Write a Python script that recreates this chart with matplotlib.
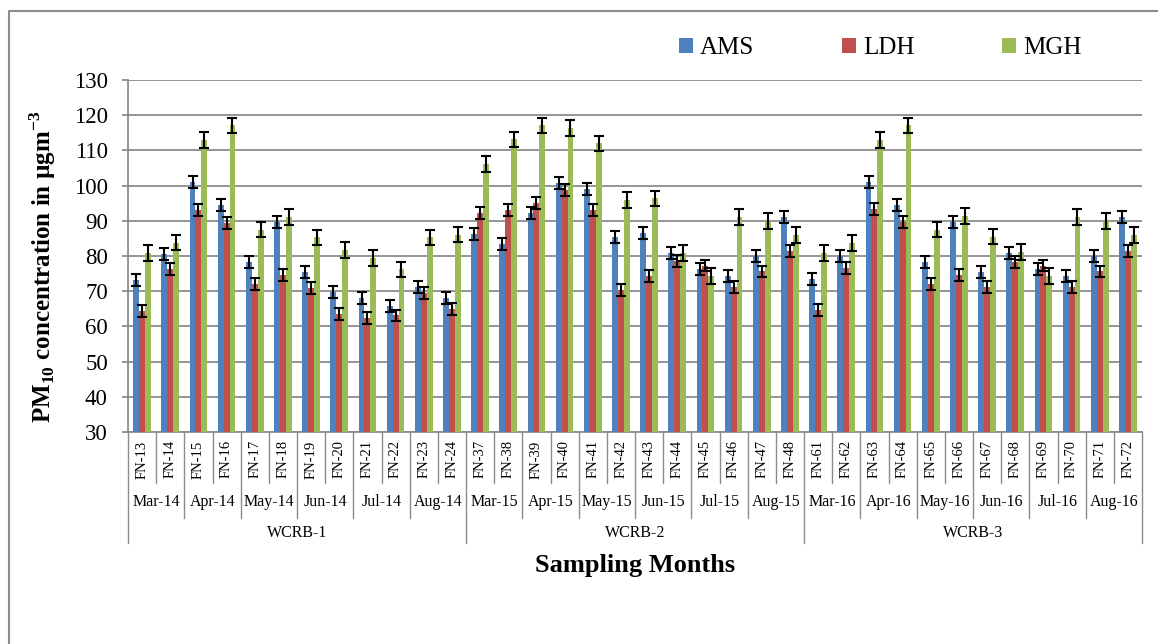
import matplotlib
matplotlib.use('Agg')
import matplotlib.pyplot as plt
import matplotlib.transforms as mtransforms
from matplotlib.lines import Line2D
import numpy as np

plt.rcParams['font.family'] = ['Liberation Serif', 'DejaVu Serif']
plt.rcParams['mathtext.fontset'] = 'custom'
plt.rcParams['mathtext.rm'] = 'Liberation Serif'
plt.rcParams['mathtext.bf'] = 'Liberation Serif:bold'

# sample ids, months and basins
samples = ['FN-13', 'FN-14', 'FN-15', 'FN-16', 'FN-17', 'FN-18', 'FN-19', 'FN-20', 'FN-21', 'FN-22', 'FN-23', 'FN-24',
           'FN-37', 'FN-38', 'FN-39', 'FN-40', 'FN-41', 'FN-42', 'FN-43', 'FN-44', 'FN-45', 'FN-46', 'FN-47', 'FN-48',
           'FN-61', 'FN-62', 'FN-63', 'FN-64', 'FN-65', 'FN-66', 'FN-67', 'FN-68', 'FN-69', 'FN-70', 'FN-71', 'FN-72']
months = ['Mar-14', 'Apr-14', 'May-14', 'Jun-14', 'Jul-14', 'Aug-14',
          'Mar-15', 'Apr-15', 'May-15', 'Jun-15', 'Jul-15', 'Aug-15',
          'Mar-16', 'Apr-16', 'May-16', 'Jun-16', 'Jul-16', 'Aug-16']
basins = ['WCRB-1', 'WCRB-2', 'WCRB-3']

# PM10 values
ams = [73.3, 80.5, 101.0, 94.4, 78.4, 89.6, 75.4, 69.7, 68.2, 65.9, 71.2, 68.2,
       86.2, 83.4, 92.1, 100.8, 99.1, 85.5, 86.4, 80.9, 76.2, 74.3, 80.1, 91.1,
       73.5, 80.1, 101.0, 94.4, 78.4, 89.6, 75.4, 80.9, 76.2, 74.3, 80.1, 91.1]
ldh = [64.4, 76.3, 93.2, 89.5, 72.0, 74.6, 71.0, 63.6, 62.4, 63.1, 69.5, 65.0,
       92.1, 93.0, 95.1, 98.7, 93.2, 70.3, 74.3, 78.6, 77.3, 71.2, 75.6, 81.3,
       64.6, 76.5, 93.4, 89.6, 72.0, 74.6, 71.2, 78.4, 77.3, 71.2, 75.6, 81.3]
mgh = [80.9, 83.8, 112.9, 117.1, 87.5, 91.1, 85.3, 81.7, 79.4, 76.2, 85.3, 86.1,
       106.1, 113.1, 117.1, 116.3, 112.0, 95.9, 96.4, 80.9, 74.3, 91.1, 90.0, 86.0,
       80.9, 83.7, 112.9, 117.1, 87.5, 91.3, 85.5, 81.1, 74.3, 91.1, 90.0, 86.0]
err_ams = 1.7
err_ldh = 1.7
err_mgh = 2.2

colors = ['#4F81BD', '#C0504D', '#9BBB59']
gray = '#8c8c8c'

fig = plt.figure(figsize=(11.58, 6.44), dpi=100)
ax = fig.add_axes([128 / 1158, 1 - 432 / 644, (1142 - 128) / 1158, (432 - 80) / 644])

x = np.arange(len(samples))
w = 0.21
ekw = dict(elinewidth=1.5, capthick=1.5, ecolor='black')
ax.bar(x - w, ams, w, color=colors[0], label='AMS', yerr=err_ams, capsize=3.5, error_kw=ekw, zorder=3)
ax.bar(x, ldh, w, color=colors[1], label='LDH', yerr=err_ldh, capsize=3.5, error_kw=ekw, zorder=3)
ax.bar(x + w, mgh, w, color=colors[2], label='MGH', yerr=err_mgh, capsize=3.5, error_kw=ekw, zorder=3)

ax.set_ylim(30, 130)
ax.set_xlim(-0.5, len(samples) - 0.5)
ax.set_yticks(np.arange(30, 131, 10))
ax.yaxis.grid(True, color=gray, linewidth=1.3, zorder=0)
ax.set_axisbelow(True)
for s in ['top', 'right']:
    ax.spines[s].set_visible(False)
for s in ['left', 'bottom']:
    ax.spines[s].set_color(gray)
    ax.spines[s].set_linewidth(1.3)
ax.tick_params(axis='y', labelsize=16.5, length=4.5, color=gray, width=1.3, pad=10)
ax.set_xticks(x)
ax.set_xticklabels(samples, rotation=90, fontsize=10.5)
ax.tick_params(axis='x', length=0, pad=6)

ax.set_ylabel(r'PM$_\mathbf{10}$ concentration in µgm$^\mathbf{-3}$', fontsize=18, fontweight='bold')
ax.yaxis.set_label_coords(-0.069, 0.47)

# multi-level category axis
trans = mtransforms.blended_transform_factory(ax.transData, ax.transAxes)
lkw = dict(color=gray, linewidth=1.0, transform=trans, clip_on=False)
for i in range(len(samples) + 1):
    xb = i - 0.5
    if i % 12 == 0:
        ybot = -0.315
    elif i % 2 == 0:
        ybot = -0.244
    else:
        ybot = -0.145
    ax.plot([xb, xb], [0, ybot], **lkw)
for j, m in enumerate(months):
    ax.text(2 * j + 0.5, -0.2, m, transform=trans, ha='center', va='center', fontsize=11.5)
for k, b in enumerate(basins):
    ax.text(12 * k + 5.5, -0.287, b, transform=trans, ha='center', va='center', fontsize=11.5)
ax.text(0.5, -0.38, 'Sampling Months', transform=ax.transAxes, ha='center', va='center',
        fontsize=19, fontweight='bold')

fig.legend(loc='center left', bbox_to_anchor=(679 / 1158, 1 - 48 / 644), ncol=3, frameon=False,
           fontsize=18, handlelength=0.55, handleheight=0.55, columnspacing=3.5, handletextpad=0.3,
           borderpad=0, borderaxespad=0)

# chart frame (only top and left edges fall inside the picture)
fig.add_artist(Line2D([9 / 1158, 9 / 1158, 1.0], [0.0, 1 - 11 / 644, 1 - 11 / 644],
                      transform=fig.transFigure, color=gray, linewidth=1.5))

fig.savefig('out.png', dpi=100)
